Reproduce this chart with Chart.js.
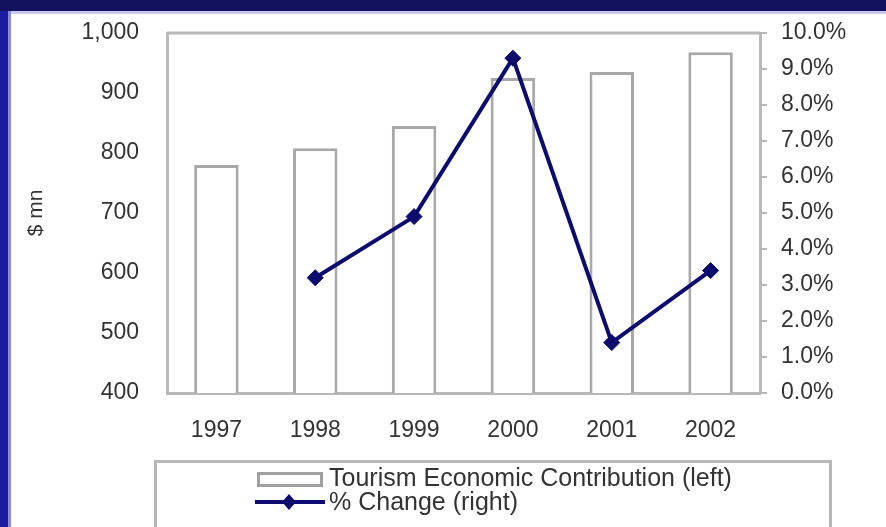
<!DOCTYPE html>
<html>
<head>
<meta charset="utf-8">
<script src="https://cdn.jsdelivr.net/npm/chart.js@4.4.0/dist/chart.umd.min.js"></script>
<style>
  html, body { margin: 0; padding: 0; }
  body {
    width: 886px; height: 527px; overflow: hidden; position: relative;
    background: #1c1c9e;
  }
  #topband { position: absolute; left: 0; top: 0; width: 886px; height: 11px; background: #12125e; }
  #topline { position: absolute; left: 8px; top: 11px; width: 878px; height: 3px; background: #c9c9f2; }
  #leftline { position: absolute; left: 8px; top: 11px; width: 3px; height: 516px; background: #8a8ad8; }
  #wrap { position: absolute; left: 11px; top: 14px; width: 875px; height: 513px; background: #fff; }
</style>
</head>
<body>
<div id="topband"></div>
<div id="topline"></div>
<div id="leftline"></div>
<div id="wrap"><canvas id="chart1" width="875" height="513"></canvas></div>
<script>
// data
const years = ['1997', '1998', '1999', '2000', '2001', '2002'];
const contribution = [780, 808, 845, 925, 935, 968];
const pctChange = [null, 3.2, 4.9, 9.3, 1.4, 3.4];

const leftTicks = [400, 500, 600, 700, 800, 900, 1000];

const navy = '#0c0c6e';
const frameGrey = '#b8b8b8';
const textCol = '#333333';
const fontFam = '"Liberation Sans", Arial, sans-serif';

// frame round the plot and the boxed legend below it
const framePlugin = {
    id: 'frame',
    afterDatasetsDraw(chart) {
        const c = chart.ctx;
        const a = chart.chartArea;
        c.save();
        c.strokeStyle = frameGrey;
        c.lineWidth = 3;
        c.beginPath();
        c.moveTo(a.left, a.top);
        c.lineTo(a.right, a.top);
        c.stroke();
        c.restore();
    },
    afterDraw(chart) {
        const c = chart.ctx;
        const ds = chart.data.datasets;
        c.save();
        // legend box
        c.strokeStyle = frameGrey;
        c.lineWidth = 3;
        c.strokeRect(144.5, 447.5, 675, 90);

        c.font = '25px ' + fontFam;
        c.textBaseline = 'middle';

        // bar swatch
        c.fillStyle = '#fff';
        c.fillRect(247, 459, 64, 13);
        c.strokeStyle = '#a0a0a0';
        c.lineWidth = 3;
        c.strokeRect(247.5, 459.5, 63, 12);
        c.fillStyle = textCol;
        c.fillText(ds[0].label, 318, 465);

        // line swatch
        c.strokeStyle = navy;
        c.lineWidth = 4;
        c.beginPath();
        c.moveTo(244, 488);
        c.lineTo(314, 488);
        c.stroke();
        c.fillStyle = navy;
        c.beginPath();
        c.moveTo(278, 480);
        c.lineTo(285, 488);
        c.lineTo(278, 496);
        c.lineTo(271, 488);
        c.closePath();
        c.fill();
        c.fillStyle = textCol;
        c.fillText(ds[1].label, 318, 489);
        c.restore();
    }
};

const data = {
    labels: years,
    datasets: [
        {
            type: 'bar',
            label: 'Tourism Economic Contribution (left)',
            data: contribution,
            backgroundColor: '#ffffff',
            borderColor: '#a8a8a8',
            borderWidth: 3,
            borderSkipped: 'bottom',
            barPercentage: 0.45,
            categoryPercentage: 1.0,
            yAxisID: 'y',
            order: 2
        },
        {
            type: 'line',
            label: '% Change (right)',
            data: pctChange,
            borderColor: navy,
            backgroundColor: navy,
            borderWidth: 4,
            pointStyle: 'rectRot',
            pointRadius: 8,
            pointBorderWidth: 1,
            tension: 0,
            spanGaps: false,
            yAxisID: 'y1',
            order: 1
        }
    ]
};

const options = {
    responsive: false,
    animation: false,
    layout: { padding: { top: 19, bottom: 0, left: 0, right: 0 } },
    plugins: {
        legend: { display: false },
        tooltip: { enabled: false }
    },
    scales: {
        x: {
            offset: true,
            grid: { display: false },
            border: { color: frameGrey, width: 3 },
            ticks: { color: textCol, font: { family: fontFam, size: 23 }, padding: 16, maxRotation: 0 },
            afterFit(axis) { axis.height = 134; axis.paddingLeft = 0; axis.paddingRight = 0; }
        },
        y: {
            position: 'left',
            min: 400,
            max: 1000,
            afterBuildTicks(axis) { axis.ticks = leftTicks.map(v => ({ value: v })); },
            grid: { display: false },
            border: { color: frameGrey, width: 3 },
            ticks: {
                color: textCol,
                font: { family: fontFam, size: 23 },
                padding: 20,
                callback: v => v.toLocaleString('en-US')
            },
            title: {
                display: true,
                text: '$ mn',
                color: textCol,
                font: { family: fontFam, size: 21 },
                padding: { top: 13, bottom: 0 }
            },
            afterFit(axis) { axis.width = 156; axis.paddingTop = 0; axis.paddingBottom = 0; }
        },
        y1: {
            position: 'right',
            min: 0,
            max: 10,
            ticks: {
                stepSize: 1,
                color: textCol,
                font: { family: fontFam, size: 23 },
                padding: 14,
                callback: v => v.toFixed(1) + '%'
            },
            grid: { drawOnChartArea: false, tickLength: 7, color: frameGrey, lineWidth: 2 },
            border: { color: frameGrey, width: 3 },
            afterFit(axis) { axis.width = 126; axis.paddingTop = 0; axis.paddingBottom = 0; }
        }
    }
};

const ctx = document.getElementById('chart1').getContext('2d');
const myChart = new Chart(ctx, {
    data: data,
    options: options,
    plugins: [framePlugin]
});
</script>
</body>
</html>
